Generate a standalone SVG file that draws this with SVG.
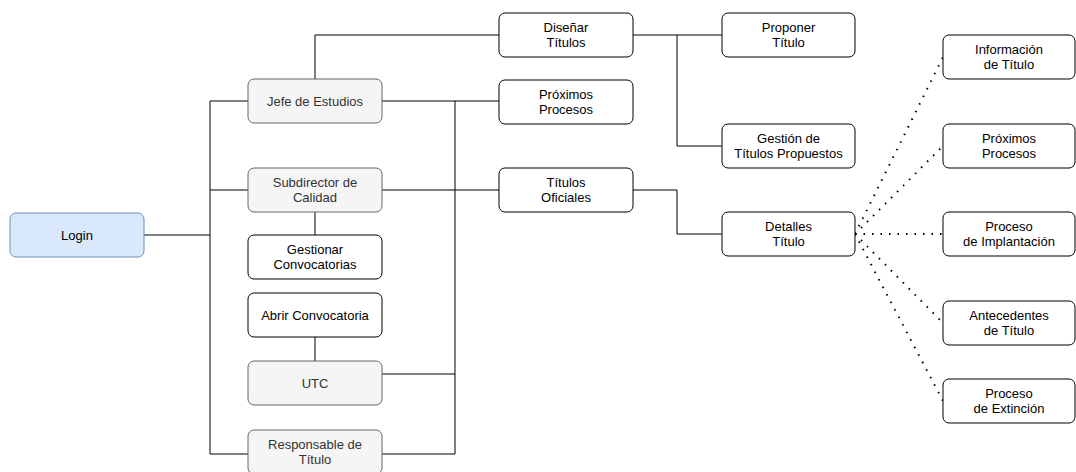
<svg xmlns="http://www.w3.org/2000/svg" width="1076" height="472" viewBox="0 0 1076 472">
<style>
.n rect{fill:#ffffff;stroke:#000000;stroke-width:1}
.g rect{fill:#f5f5f5;stroke:#666666;stroke-width:1}
.b rect{fill:#dae8fc;stroke:#6c8ebf;stroke-width:1}
text{font-family:"Liberation Sans",Arial,Helvetica,sans-serif;font-size:13px;text-anchor:middle;fill:#000000}
.g text{fill:#333333}
.c path{fill:none;stroke:#000000;stroke-width:1}
.c .d{stroke-width:2;stroke-dasharray:1.5 7;stroke-linecap:butt}
</style>
<rect width="1076" height="472" fill="#ffffff"/>
<g class="c" id="connectors">
<path d="M144 235H210"/>
<path d="M248 101H210V454H248"/>
<path d="M210 190H248"/>
<path d="M315 79V35H499"/>
<path d="M315 212V235"/>
<path d="M315 337V361"/>
<path d="M382 101H499"/>
<path d="M382 190H499"/>
<path d="M382 374H455"/>
<path d="M382 454H455V101"/>
<path d="M633 35H722"/>
<path d="M677 35V146H722"/>
<path d="M633 190H677V234H722"/>
<path class="d" d="M855 234L943 57"/>
<path class="d" d="M855 234L943 146"/>
<path class="d" d="M855 234H943"/>
<path class="d" d="M855 234L943 323"/>
<path class="d" d="M855 234L943 401"/>
</g>
<g id="login" class="b"><rect x="10" y="213" width="134" height="44" rx="6"/><text x="77" y="239.5">Login</text></g>
<g id="jefe" class="g"><rect x="248" y="79" width="134" height="44" rx="6"/><text x="315" y="105.5">Jefe de Estudios</text></g>
<g id="subdirector" class="g"><rect x="248" y="168" width="134" height="44" rx="6"/><text x="315" y="187">Subdirector de</text><text x="315" y="202">Calidad</text></g>
<g id="gestionar" class="n"><rect x="248" y="235" width="134" height="44" rx="6"/><text x="315" y="254">Gestionar</text><text x="315" y="269">Convocatorias</text></g>
<g id="abrir" class="n"><rect x="248" y="293" width="134" height="44" rx="6"/><text x="315" y="319.5">Abrir Convocatoria</text></g>
<g id="utc" class="g"><rect x="248" y="361" width="134" height="44" rx="6"/><text x="315" y="387.5">UTC</text></g>
<g id="responsable" class="g"><rect x="248" y="430" width="134" height="44" rx="6"/><text x="315" y="449">Responsable de</text><text x="315" y="464">Título</text></g>
<g id="disenar" class="n"><rect x="499" y="13" width="134" height="44" rx="6"/><text x="566" y="32">Diseñar</text><text x="566" y="47">Títulos</text></g>
<g id="proximos1" class="n"><rect x="499" y="80" width="134" height="44" rx="6"/><text x="566" y="99">Próximos</text><text x="566" y="114">Procesos</text></g>
<g id="oficiales" class="n"><rect x="499" y="168" width="134" height="44" rx="6"/><text x="566" y="187">Títulos</text><text x="566" y="202">Oficiales</text></g>
<g id="proponer" class="n"><rect x="722" y="13" width="133" height="44" rx="6"/><text x="788.5" y="32">Proponer</text><text x="788.5" y="47">Título</text></g>
<g id="gestion" class="n"><rect x="722" y="124" width="133" height="44" rx="6"/><text x="788.5" y="143">Gestión de</text><text x="788.5" y="158">Títulos Propuestos</text></g>
<g id="detalles" class="n"><rect x="722" y="212" width="133" height="44" rx="6"/><text x="788.5" y="231">Detalles</text><text x="788.5" y="246">Título</text></g>
<g id="informacion" class="n"><rect x="943" y="35" width="132" height="44" rx="6"/><text x="1009" y="54">Información</text><text x="1009" y="69">de Título</text></g>
<g id="proximos2" class="n"><rect x="943" y="124" width="132" height="44" rx="6"/><text x="1009" y="143">Próximos</text><text x="1009" y="158">Procesos</text></g>
<g id="implantacion" class="n"><rect x="943" y="212" width="132" height="44" rx="6"/><text x="1009" y="231">Proceso</text><text x="1009" y="246">de Implantación</text></g>
<g id="antecedentes" class="n"><rect x="943" y="301" width="132" height="44" rx="6"/><text x="1009" y="320">Antecedentes</text><text x="1009" y="335">de Título</text></g>
<g id="extincion" class="n"><rect x="943" y="379" width="132" height="44" rx="6"/><text x="1009" y="398">Proceso</text><text x="1009" y="413">de Extinción</text></g>
</svg>
